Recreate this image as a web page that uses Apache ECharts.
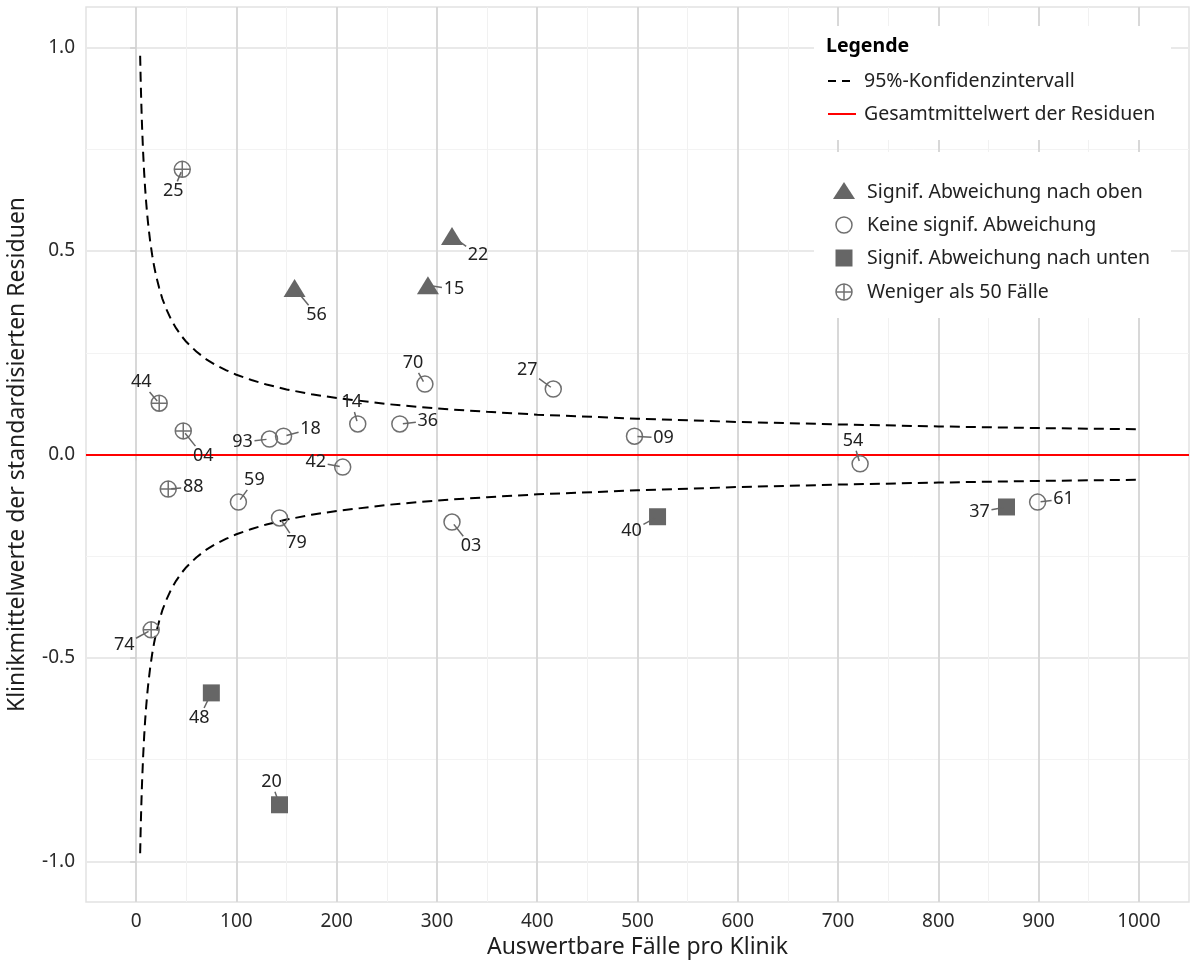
<!DOCTYPE html>
<html><head><meta charset="utf-8">
<script src="https://cdn.jsdelivr.net/npm/echarts@6/dist/echarts.min.js"></script>
<style>html,body{margin:0;padding:0;background:#fff}#c{width:1194px;height:967px}</style>
</head><body><div id="c"></div>
<script>
// ---------------- data ----------------
const clinicIds    = ['25','44','04','88','74','48','20','56','22','15','70','27','14','36','93','18','42','59','79','03','09','40','54','37','61'];
const caseCounts   = [46, 23, 47, 32, 15, 75, 143, 158, 315, 291, 288, 416, 221, 263, 133, 147, 206, 102, 143, 315, 497, 520, 722, 868, 899];
const residualMeans= [0.701, 0.126, 0.058, -0.085, -0.431, -0.586, -0.861, 0.409, 0.537, 0.416, 0.173, 0.161, 0.075, 0.075, 0.038, 0.045, -0.031, -0.117, -0.156, -0.166, 0.045, -0.153, -0.023, -0.129, -0.117];
const groups       = ['less50','less50','less50','less50','less50','down','down','up','up','up','none','none','none','none','none','none','none','none','none','none','none','down','none','down','none'];

const ciCases = [4, 4.5, 5, 5.5, 6, 7, 8, 9, 10, 11, 12, 14, 16, 18, 20, 23, 26, 30, 35, 40, 45, 50, 60, 70, 80, 90, 100, 115, 130, 150, 175, 200, 250, 300, 350, 400, 500, 600, 700, 800, 900, 1000];
const ciUpper = [0.980, 0.924, 0.877, 0.836, 0.800, 0.741, 0.693, 0.653, 0.620, 0.591, 0.566, 0.524, 0.490, 0.462, 0.438, 0.409, 0.384, 0.358, 0.331, 0.310, 0.292, 0.277, 0.253, 0.234, 0.219, 0.207, 0.196, 0.183, 0.172, 0.160, 0.148, 0.139, 0.124, 0.113, 0.105, 0.098, 0.088, 0.080, 0.074, 0.069, 0.065, 0.062];
const ciLower = [-0.980, -0.924, -0.877, -0.836, -0.800, -0.741, -0.693, -0.653, -0.620, -0.591, -0.566, -0.524, -0.490, -0.462, -0.438, -0.409, -0.384, -0.358, -0.331, -0.310, -0.292, -0.277, -0.253, -0.234, -0.219, -0.207, -0.196, -0.183, -0.172, -0.160, -0.148, -0.139, -0.124, -0.113, -0.105, -0.098, -0.088, -0.080, -0.074, -0.069, -0.065, -0.062];
const overallMean = 0;

const xTicks = [0, 100, 200, 300, 400, 500, 600, 700, 800, 900, 1000];
const xMinor = [50, 150, 250, 350, 450, 550, 650, 750, 850, 950];
const yTicks = [-1, -0.5, 0, 0.5, 1];
const yMinor = [-0.75, -0.25, 0.25, 0.75];

const groupNames = {
  up: 'Signif. Abweichung nach oben',
  none: 'Keine signif. Abweichung',
  down: 'Signif. Abweichung nach unten',
  less50: 'Weniger als 50 Fälle'
};

// label placement (pixel offsets of label centre from its point)
const labelOffsets = [[-9,22],[-18,-21],[20,25],[25,-2],[-27,15],[-12,25],[-8,-23],[22,27],[26,19],[26,4],[-12,-21],[-26,-19],[-6,-22],[28,-3],[-27,3],[27,-7],[-27,-5],[16,-22],[17,25],[19,24],[29,2],[-26,14],[-7,-23],[-27,5],[26,-3]];

// ---------------- chart ----------------
const FONT = '"Noto Sans", "Open Sans", sans-serif';
const GRAY = '#666666';
const CROSS = 'path://M1,10A9,9,0,1,1,19,10A9,9,0,1,1,1,10ZM10,1L10,19M1,10L19,10';

function pts(g) {
  const out = [];
  for (let i = 0; i < clinicIds.length; i++) if (groups[i] === g) out.push([caseCounts[i], residualMeans[i]]);
  return out;
}

const chart = echarts.init(document.getElementById('c'), null, {renderer: 'canvas'});
const option = {
  animation: false,
  backgroundColor: '#ffffff',
  textStyle: {fontFamily: FONT},
  grid: {left: 86, right: 5, top: 7, bottom: 65, show: true, borderColor: '#e2e2e2', borderWidth: 1.5,
         backgroundColor: 'transparent', containLabel: false, outerBoundsMode: 'none'},
  xAxis: [
    {type: 'value', min: -50, max: 1050, position: 'bottom',
     axisLine: {show: false}, axisTick: {show: false, customValues: xMinor}, axisLabel: {show: false, customValues: xMinor},
     splitLine: {show: true, lineStyle: {color: '#f1f1f1', width: 1}}},
    {type: 'value', min: -50, max: 1050, position: 'bottom',
     name: 'Auswertbare Fälle pro Klinik', nameLocation: 'middle', nameGap: 30,
     nameTextStyle: {fontSize: 23, color: '#1e1e1e', fontFamily: FONT},
     axisLine: {show: false},
     axisTick: {show: true, length: 6, lineStyle: {color: '#d0d0d0', width: 1.5}, customValues: xTicks},
     axisLabel: {customValues: xTicks, fontSize: 19, color: '#2a2a2a', fontFamily: FONT, margin: 10,
                 formatter: v => String(v)},
     splitLine: {show: true, lineStyle: {color: '#d8d8d8', width: 2}}}
  ],
  yAxis: [
    {type: 'value', min: -1.1, max: 1.1, position: 'left',
     axisLine: {show: false}, axisTick: {show: false, customValues: yMinor}, axisLabel: {show: false, customValues: yMinor},
     splitLine: {show: true, lineStyle: {color: '#f3f3f3', width: 1}}},
    {type: 'value', min: -1.1, max: 1.1, position: 'left',
     name: 'Klinikmittelwerte der standardisierten Residuen', nameLocation: 'middle', nameGap: 57,
     nameTextStyle: {fontSize: 23, color: '#1e1e1e', fontFamily: FONT},
     axisLine: {show: false},
     axisTick: {show: true, length: 6, lineStyle: {color: '#d0d0d0', width: 1.5}, customValues: yTicks},
     axisLabel: {customValues: yTicks, fontSize: 19, color: '#2a2a2a', fontFamily: FONT, margin: 11,
                 formatter: v => v.toFixed(1)},
     splitLine: {show: true, lineStyle: {color: '#e9e9e9', width: 2}}}
  ],
  series: [
    {type: 'line', name: 'ci-upper', xAxisIndex: 1, yAxisIndex: 1, z: 3,
     data: ciCases.map((n, i) => [n, ciUpper[i]]), smooth: false, showSymbol: false, silent: true,
     lineStyle: {color: '#000', width: 2, type: [10, 6]},
     markLine: {silent: true, symbol: 'none', label: {show: false},
                lineStyle: {color: '#ff0000', width: 2, type: 'solid'}, data: [{yAxis: overallMean}]}},
    {type: 'line', name: 'ci-lower', xAxisIndex: 1, yAxisIndex: 1, z: 3,
     data: ciCases.map((n, i) => [n, ciLower[i]]), smooth: false, showSymbol: false, silent: true,
     lineStyle: {color: '#000', width: 2, type: [10, 6]}},
    {type: 'scatter', name: groupNames.up, xAxisIndex: 1, yAxisIndex: 1, z: 5, data: pts('up'),
     symbol: 'triangle', symbolSize: [22, 18], itemStyle: {color: GRAY, opacity: 1}},
    {type: 'scatter', name: groupNames.down, xAxisIndex: 1, yAxisIndex: 1, z: 5, data: pts('down'),
     symbol: 'rect', symbolSize: 17, itemStyle: {color: GRAY, opacity: 1}},
    {type: 'scatter', name: groupNames.none, xAxisIndex: 1, yAxisIndex: 1, z: 5, data: pts('none'),
     symbol: 'circle', symbolSize: 16, itemStyle: {color: 'rgba(0,0,0,0)', borderColor: '#707070', borderWidth: 1.5, opacity: 1}},
    {type: 'scatter', name: groupNames.less50, xAxisIndex: 1, yAxisIndex: 1, z: 5, data: pts('less50'),
     symbol: CROSS, symbolSize: 16, itemStyle: {color: 'rgba(0,0,0,0)', borderColor: '#707070', borderWidth: 1.5, opacity: 1}},
    {type: 'custom', name: 'labels', xAxisIndex: 1, yAxisIndex: 1, z: 6, silent: true,
     data: caseCounts.map((n, i) => [n, residualMeans[i], i]),
     renderItem: function (params, api) {
       const i = api.value(2);
       const p = api.coord([api.value(0), api.value(1)]);
       const d = labelOffsets[i];
       const lx = p[0] + d[0], ly = p[1] + d[1];
       const len = Math.hypot(d[0], d[1]);
       const ux = d[0] / len, uy = d[1] / len;
       const hw = 11, hh = 9;
       const t = Math.min(hw / Math.max(Math.abs(ux), 1e-6), hh / Math.max(Math.abs(uy), 1e-6));
       return {type: 'group', children: [
         {type: 'line', shape: {x1: p[0] + ux * 3, y1: p[1] + uy * 3, x2: lx - ux * (t + 1), y2: ly - uy * (t + 1)},
          style: {stroke: '#666', lineWidth: 1.5}},
         {type: 'text', x: lx, y: ly,
          style: {text: clinicIds[i], fontSize: 18, fontFamily: FONT, fill: '#222', align: 'center', verticalAlign: 'middle'}}
       ]};
     }}
  ],
  graphic: [
    {type: 'rect', shape: {x: 814, y: 26, width: 357, height: 114}, style: {fill: '#fff'}, z: 10},
    {type: 'rect', shape: {x: 814, y: 152, width: 357, height: 166}, style: {fill: '#fff'}, z: 10},
    {type: 'text', x: 826, y: 46, z: 11, style: {text: 'Legende', fontSize: 19.5, fontWeight: 'bold', fontFamily: FONT, fill: '#000', verticalAlign: 'middle'}},
    {type: 'line', z: 11, shape: {x1: 828, y1: 81, x2: 856, y2: 81}, style: {stroke: '#000', lineWidth: 2, lineDash: [8, 6]}},
    {type: 'text', x: 864, y: 81, z: 11, style: {text: '95%-Konfidenzintervall', fontSize: 19.5, fontFamily: FONT, fill: '#222', verticalAlign: 'middle'}},
    {type: 'line', z: 11, shape: {x1: 828, y1: 114, x2: 856, y2: 114}, style: {stroke: '#ff0000', lineWidth: 2}},
    {type: 'text', x: 864, y: 114, z: 11, style: {text: 'Gesamtmittelwert der Residuen', fontSize: 19.5, fontFamily: FONT, fill: '#222', verticalAlign: 'middle'}},
    {type: 'polygon', z: 11, shape: {points: [[833, 199], [855, 199], [844, 182]]}, style: {fill: GRAY}},
    {type: 'text', x: 867, y: 192, z: 11, style: {text: groupNames.up, fontSize: 19.5, fontFamily: FONT, fill: '#222', verticalAlign: 'middle'}},
    {type: 'circle', z: 11, shape: {cx: 844, cy: 225, r: 8}, style: {fill: 'none', stroke: '#707070', lineWidth: 1.5}},
    {type: 'text', x: 867, y: 225, z: 11, style: {text: groupNames.none, fontSize: 19.5, fontFamily: FONT, fill: '#222', verticalAlign: 'middle'}},
    {type: 'rect', z: 11, shape: {x: 835.5, y: 249.5, width: 17, height: 17}, style: {fill: GRAY}},
    {type: 'text', x: 867, y: 258, z: 11, style: {text: groupNames.down, fontSize: 19.5, fontFamily: FONT, fill: '#222', verticalAlign: 'middle'}},
    {type: 'group', z: 11, children: [
      {type: 'circle', z: 11, shape: {cx: 844, cy: 292, r: 8}, style: {fill: 'none', stroke: '#707070', lineWidth: 1.5}},
      {type: 'line', z: 11, shape: {x1: 844, y1: 284, x2: 844, y2: 300}, style: {stroke: '#707070', lineWidth: 1.5}},
      {type: 'line', z: 11, shape: {x1: 836, y1: 292, x2: 852, y2: 292}, style: {stroke: '#707070', lineWidth: 1.5}}
    ]},
    {type: 'text', x: 867, y: 292, z: 11, style: {text: groupNames.less50, fontSize: 19.5, fontFamily: FONT, fill: '#222', verticalAlign: 'middle'}}
  ]
};
chart.setOption(option);
</script>
</body></html>
